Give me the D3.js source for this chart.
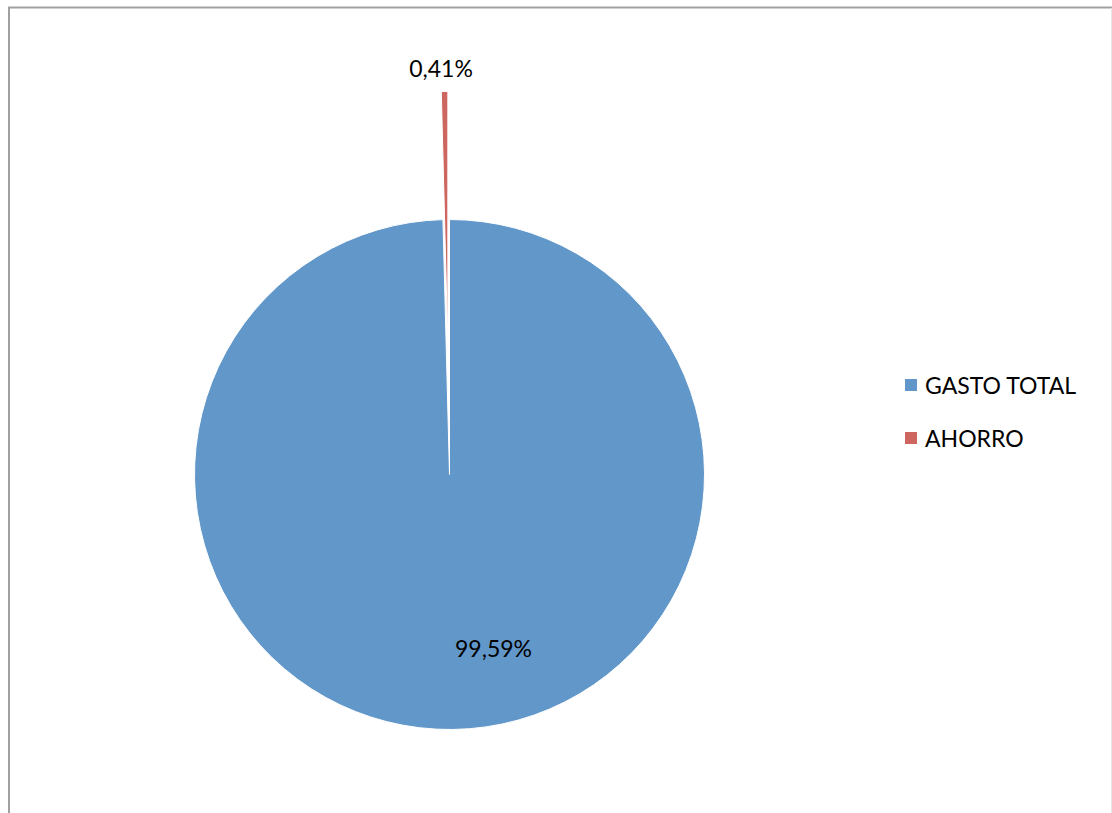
<!DOCTYPE html>
<html>
<head>
<meta charset="utf-8">
<script src="https://cdn.jsdelivr.net/npm/d3@7"></script>
<style>
  html, body { margin: 0; padding: 0; background: #fff; }
  svg { display: block; }
  text { font-family: Lato, "Open Sans", sans-serif; fill: #000; }
</style>
</head>
<body>
<svg id="chart" width="1112" height="813"></svg>
<script>
const categories = ["GASTO TOTAL", "AHORRO"];
const values = [99.59, 0.41];
const labels = ["99,59%", "0,41%"];
const colors = ["#6297CA", "#CC665F"];

const svg = d3.select("#chart");

// outer frame
svg.append("path")
  .attr("d", "M9,840 L9,7.5 L1112,7.5")
  .attr("fill", "none").attr("stroke", "#A0A0A0").attr("stroke-width", 2);
svg.append("line").attr("x1", 1111.5).attr("x2", 1111.5).attr("y1", 8).attr("y2", 813)
  .attr("stroke", "#E6E6E6").attr("stroke-width", 1);

const cx = 449.5, cy = 474.5, R = 255;
const explode = 128;

const data = categories.map((c, i) => ({ cat: c, value: values[i], label: labels[i], color: colors[i] }));
const pie = d3.pie().sort(null).value(d => d.value);
const arcs = pie(data);
const arc = d3.arc().innerRadius(0).outerRadius(R);

const g = svg.append("g").attr("transform", `translate(${cx},${cy})`);

arcs.forEach((a, i) => {
  const mid = (a.startAngle + a.endAngle) / 2;
  const off = i === 1 ? explode : 0;
  const dx = Math.sin(mid) * off, dy = -Math.cos(mid) * off;
  g.append("path")
    .attr("d", arc(a))
    .attr("transform", `translate(${dx},${dy})`)
    .attr("fill", a.data.color)
    .attr("stroke", "#fff")
    .attr("stroke-width", 1);
});

// data labels
const labelPos = [
  { ang: 166 * Math.PI / 180, r: 182 },   // GASTO TOTAL (inside)
  { ang: -1.2 * Math.PI / 180, r: 403 }   // AHORRO (outside exploded slice)
];
arcs.forEach((a, i) => {
  const p = labelPos[i];
  g.append("text")
    .attr("x", Math.sin(p.ang) * p.r)
    .attr("y", -Math.cos(p.ang) * p.r)
    .attr("text-anchor", "middle")
    .attr("dominant-baseline", "middle")
    .style("font-size", "23px")
    .text(a.data.label);
});

// legend
const legend = svg.append("g").attr("transform", "translate(905,379)");
data.forEach((d, i) => {
  const row = legend.append("g").attr("transform", `translate(0,${i * 53})`);
  row.append("rect").attr("width", 12).attr("height", 12).attr("fill", d.color);
  row.append("text").attr("x", 20).attr("y", 14.5)
    .style("font-size", "23px").text(d.cat);
});
</script>
</body>
</html>
